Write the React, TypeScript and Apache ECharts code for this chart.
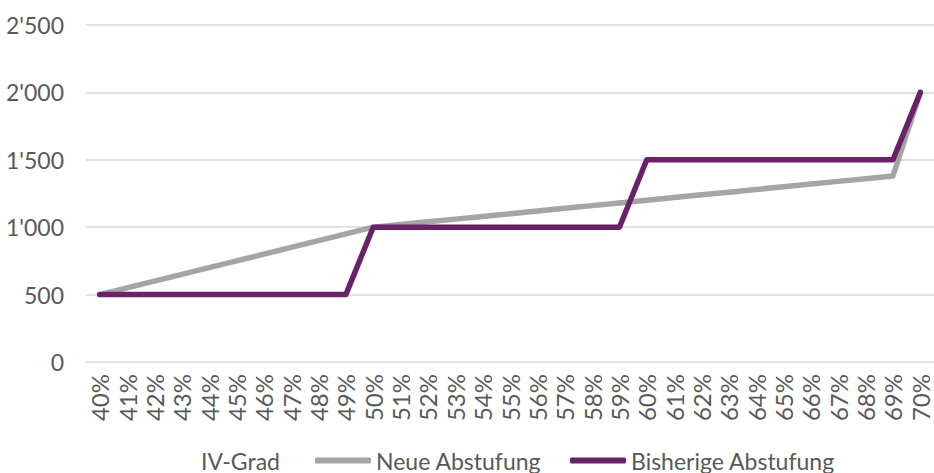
import React, { useEffect, useRef } from "react";
import * as echarts from "echarts";

const categories = [
  "40%", "41%", "42%", "43%", "44%", "45%", "46%", "47%", "48%", "49%",
  "50%", "51%", "52%", "53%", "54%", "55%", "56%", "57%", "58%", "59%",
  "60%", "61%", "62%", "63%", "64%", "65%", "66%", "67%", "68%", "69%", "70%",
];

const neueAbstufung = [
  500, 550, 600, 650, 700, 750, 800, 850, 900, 950,
  1000, 1020, 1040, 1060, 1080, 1100, 1120, 1140, 1160, 1180,
  1200, 1220, 1240, 1260, 1280, 1300, 1320, 1340, 1360, 1380, 2000,
];

const bisherigeAbstufung = [
  500, 500, 500, 500, 500, 500, 500, 500, 500, 500,
  1000, 1000, 1000, 1000, 1000, 1000, 1000, 1000, 1000, 1000,
  1500, 1500, 1500, 1500, 1500, 1500, 1500, 1500, 1500, 1500, 2000,
];

const seriesNames = ["IV-Grad", "Neue Abstufung", "Bisherige Abstufung"];

const FONT = "Lato";
const TEXT = "#595959";
const GREY = "#A5A5A5";
const PURPLE = "#6B2168";

function fmt(v: number): string {
  const s = String(Math.round(v));
  return s.replace(/\B(?=(\d{3})+(?!\d))/g, "'");
}

export default function App() {
  const ref = useRef<HTMLDivElement>(null);
  useEffect(() => {
    if (!ref.current) return;
    const chart = echarts.init(ref.current, null, { renderer: "svg" });
    const legendText = { color: TEXT, fontSize: 23, fontFamily: FONT, lineHeight: 23 };
    chart.setOption({
      animation: false,
      grid: { left: 86, width: 852, top: 25, height: 337 },
      legend: [
        {
          data: [{ name: seriesNames[0], icon: "rect", itemStyle: { opacity: 0 } }],
          left: 136, top: 444, itemWidth: 55, itemHeight: 5, itemGap: 0,
          textStyle: legendText, selectedMode: false,
        },
        {
          data: [{ name: seriesNames[1], icon: "roundRect", itemStyle: { color: GREY } }],
          left: 310, top: 444, itemWidth: 56, itemHeight: 6,
          textStyle: legendText, selectedMode: false,
        },
        {
          data: [{ name: seriesNames[2], icon: "roundRect", itemStyle: { color: PURPLE } }],
          left: 565, top: 444, itemWidth: 56, itemHeight: 6,
          textStyle: legendText, selectedMode: false,
        },
      ],
      xAxis: {
        type: "category",
        data: categories,
        boundaryGap: true,
        axisLine: { show: false },
        axisTick: { show: false },
        axisLabel: {
          rotate: 90, interval: 0, margin: 12,
          color: TEXT, fontSize: 24, fontFamily: FONT,
        },
      },
      yAxis: {
        type: "value",
        min: 0, max: 2500, interval: 500,
        axisLine: { show: false },
        axisTick: { show: false },
        splitLine: { lineStyle: { color: "#D9D9D9", width: 1.5 } },
        axisLabel: {
          margin: 22, color: TEXT, fontSize: 23, fontFamily: FONT,
          formatter: (v: number) => fmt(v),
        },
      },
      series: [
        {
          name: seriesNames[0], type: "line", data: [],
          itemStyle: { color: "rgba(0,0,0,0)" },
          lineStyle: { opacity: 0 },
        },
        {
          name: seriesNames[1], type: "line", data: neueAbstufung,
          showSymbol: false, symbol: "none",
          itemStyle: { color: GREY },
          lineStyle: { color: GREY, width: 5.5, cap: "round", join: "round" },
        },
        {
          name: seriesNames[2], type: "line", data: bisherigeAbstufung,
          showSymbol: false, symbol: "none",
          itemStyle: { color: PURPLE },
          lineStyle: { color: PURPLE, width: 5.5, cap: "round", join: "round" },
        },
      ],
    });
    return () => chart.dispose();
  }, []);
  return (
    <div
      ref={ref}
      style={{ position: "absolute", left: 0, top: 0, width: 934, height: 473 }}
    />
  );
}
